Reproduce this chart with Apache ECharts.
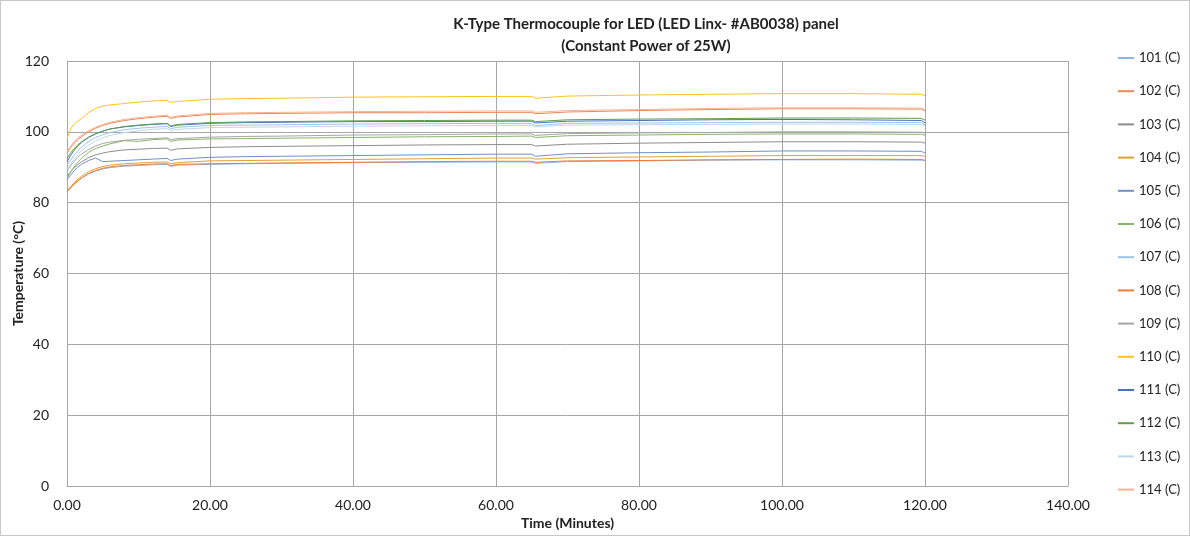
<!DOCTYPE html>
<html>
<head>
<meta charset="utf-8">
<script src="https://cdn.jsdelivr.net/npm/echarts@6/dist/echarts.min.js"></script>
<style>
  html, body { margin: 0; padding: 0; background: #fff; }
  #chart { width: 1190px; height: 536px; box-sizing: border-box; border: 1px solid #c8c8c8; }
</style>
</head>
<body>
<div id="chart"></div>
<script>
// time in minutes
var minutes = [0, 0.5, 1, 1.5, 2, 3, 4, 5, 6, 8, 10, 12, 14, 14.5, 15.5, 20, 25, 30, 40, 50, 60, 65, 65.5, 70, 80, 90, 100, 110, 119.5, 120];

var names = ['101 (C)', '102 (C)', '103 (C)', '104 (C)', '105 (C)', '106 (C)', '107 (C)',
             '108 (C)', '109 (C)', '110 (C)', '111 (C)', '112 (C)', '113 (C)', '114 (C)'];

var temp101 = [83.2, 84.3, 85.3, 86.2, 86.9, 88.1, 88.9, 89.5, 89.9, 90.3, 90.5, 90.7, 90.8, 90.2, 90.6, 90.8, 91.0, 91.1, 91.3, 91.4, 91.5, 91.5, 91.1, 91.6, 91.8, 92.0, 92.1, 92.1, 92.0, 91.8];
var temp102 = [94.0, 95.5, 96.8, 97.8, 98.6, 100.0, 101.0, 101.8, 102.4, 103.2, 103.7, 104.1, 104.4, 103.8, 104.2, 104.9, 105.1, 105.2, 105.4, 105.4, 105.5, 105.5, 105.1, 105.6, 106.0, 106.3, 106.5, 106.5, 106.4, 105.9];
var temp103 = [87.5, 88.7, 89.8, 90.7, 91.5, 92.7, 93.5, 94.0, 94.4, 94.9, 95.1, 95.3, 95.4, 94.8, 95.2, 95.6, 95.8, 95.9, 96.1, 96.3, 96.4, 96.4, 96.0, 96.5, 96.8, 97.0, 97.2, 97.2, 97.1, 96.8];
var temp104 = [83.3, 84.5, 85.6, 86.6, 87.4, 88.7, 89.6, 90.2, 90.6, 91.0, 91.2, 91.4, 91.5, 91.0, 91.3, 91.8, 91.9, 92.0, 92.2, 92.4, 92.6, 92.6, 92.3, 92.7, 92.9, 93.1, 93.3, 93.3, 93.3, 93.1];
var temp105 = [86.5, 87.8, 89.0, 90.0, 90.8, 91.9, 92.6, 91.6, 91.7, 91.9, 92.1, 92.3, 92.5, 91.9, 92.3, 92.8, 93.0, 93.1, 93.3, 93.5, 93.7, 93.7, 93.1, 93.8, 94.1, 94.3, 94.6, 94.6, 94.5, 94.0];
var temp106 = [87.0, 88.6, 90.1, 91.4, 92.5, 94.2, 95.3, 96.0, 96.6, 97.5, 97.3, 97.8, 98.0, 97.3, 97.7, 98.0, 98.1, 98.2, 98.4, 98.6, 98.7, 98.8, 98.4, 98.9, 99.1, 99.3, 99.4, 99.4, 99.3, 99.0];
var temp107 = [90.5, 92.0, 93.4, 94.6, 95.6, 97.2, 98.4, 99.2, 99.8, 100.6, 101.0, 101.3, 101.5, 100.9, 101.3, 101.8, 101.9, 102.0, 102.2, 102.3, 102.4, 102.3, 101.8, 102.4, 102.5, 102.6, 102.7, 102.7, 102.6, 102.0];
var temp108 = [83.0, 84.1, 85.2, 86.1, 86.9, 88.2, 89.1, 89.7, 90.1, 90.5, 90.7, 90.9, 91.0, 90.5, 90.8, 91.0, 91.1, 91.2, 91.4, 91.6, 91.7, 91.7, 91.4, 91.8, 91.9, 92.1, 92.2, 92.3, 92.2, 92.0];
var temp109 = [89.0, 90.4, 91.7, 92.8, 93.7, 95.0, 96.0, 96.7, 97.1, 97.6, 97.9, 98.1, 98.3, 97.8, 98.1, 98.5, 98.7, 98.8, 99.1, 99.2, 99.4, 99.4, 99.0, 99.5, 99.7, 99.8, 100.0, 100.0, 99.9, 99.6];
var temp110 = [98.0, 100.8, 102.2, 103.0, 103.7, 105.4, 106.6, 107.3, 107.6, 108.0, 108.4, 108.7, 108.9, 108.3, 108.6, 109.2, 109.4, 109.5, 109.8, 109.9, 110.0, 110.0, 109.5, 110.1, 110.4, 110.6, 110.8, 110.8, 110.6, 110.2];
var temp111 = [91.5, 93.3, 94.8, 96.0, 97.0, 98.4, 99.4, 100.2, 100.8, 101.4, 101.8, 102.1, 102.3, 101.5, 101.9, 102.4, 102.6, 102.7, 102.9, 102.9, 103.0, 103.0, 102.5, 103.0, 103.2, 103.4, 103.5, 103.4, 103.2, 102.5];
var temp112 = [92.5, 94.0, 95.3, 96.3, 97.1, 98.5, 99.5, 100.2, 100.8, 101.5, 101.9, 102.2, 102.4, 101.7, 102.1, 102.6, 102.8, 102.9, 103.1, 103.2, 103.3, 103.3, 102.9, 103.4, 103.6, 103.7, 103.9, 103.9, 103.8, 103.3];
var temp113 = [89.5, 91.0, 92.4, 93.6, 94.6, 96.2, 97.4, 98.3, 99.0, 99.8, 100.3, 100.7, 100.9, 100.4, 100.7, 101.2, 101.3, 101.4, 101.6, 101.7, 101.8, 101.8, 101.4, 101.9, 102.0, 102.1, 102.2, 102.2, 102.1, 101.6];
var temp114 = [94.4, 95.9, 97.2, 98.2, 99.0, 100.3, 101.3, 102.1, 102.7, 103.5, 104.0, 104.4, 104.7, 104.1, 104.5, 105.2, 105.4, 105.5, 105.7, 105.8, 105.9, 105.9, 105.5, 106.0, 106.3, 106.6, 106.8, 106.8, 106.7, 106.2];

var allTemps = [temp101, temp102, temp103, temp104, temp105, temp106, temp107,
                temp108, temp109, temp110, temp111, temp112, temp113, temp114];

var colors = ['#8DB4E2', '#EE8756', '#8C8C8C', '#E1A12E', '#6F8FCB', '#86B66A', '#9DC3E6',
              '#F07A36', '#A5A5A5', '#FFC21A', '#4472C4', '#5E9E4A', '#BDD7EE', '#F8B493'];

var fontName = 'Lato, "Open Sans", sans-serif';

var chart = echarts.init(document.getElementById('chart'));

var series = names.map(function (name, k) {
    return {
        name: name,
        type: 'line',
        showSymbol: false,
        symbol: 'none',
        lineStyle: { width: 1, color: colors[k] },
        itemStyle: { color: colors[k] },
        data: minutes.map(function (t, i) { return [t, allTemps[k][i]]; })
    };
});

var option = {
    animation: false,
    color: colors,
    title: {
        text: 'K-Type Thermocouple for LED (LED Linx- #AB0038) panel\n(Constant Power of 25W)',
        left: 640,
        top: 7,
        textAlign: 'center',
        textStyle: {
            fontFamily: fontName,
            fontSize: 15,
            fontWeight: 'bold',
            color: '#222',
            lineHeight: 22
        }
    },
    legend: {
        orient: 'vertical',
        left: 1112,
        top: 45,
        itemWidth: 16,
        itemHeight: 2,
        icon: 'rect',
        itemGap: 19.2,
        textStyle: { fontFamily: fontName, fontSize: 13, color: '#222', lineHeight: 14 },
        data: names
    },
    grid: {
        left: 66,
        right: 1190 - 1069,
        top: 60,
        bottom: 536 - 487,
        containLabel: false,
        outerBoundsMode: 'none'
    },
    xAxis: {
        type: 'value',
        min: 0,
        max: 140,
        interval: 20,
        name: 'Time (Minutes)',
        nameLocation: 'middle',
        nameGap: 30,
        nameMoveOverlap: false,
        nameTextStyle: { fontFamily: fontName, fontSize: 14, fontWeight: 'bold', color: '#222' },
        axisLine: { lineStyle: { color: '#A6A6A6' } },
        axisTick: { show: false },
        axisLabel: {
            fontFamily: fontName, fontSize: 14, color: '#222', margin: 12,
            formatter: function (v) { return v.toFixed(2); }
        },
        splitLine: { show: true, lineStyle: { color: '#A6A6A6', width: 1 } }
    },
    yAxis: {
        type: 'value',
        min: 0,
        max: 120,
        interval: 20,
        name: 'Temperature (°C)',
        nameLocation: 'middle',
        nameGap: 42,
        nameMoveOverlap: false,
        nameTextStyle: { fontFamily: fontName, fontSize: 14, fontWeight: 'bold', color: '#222' },
        axisLine: { show: true, lineStyle: { color: '#A6A6A6' } },
        axisTick: { show: false },
        axisLabel: { fontFamily: fontName, fontSize: 14, color: '#222', margin: 18 },
        splitLine: { show: true, lineStyle: { color: '#A6A6A6', width: 1 } }
    },
    series: series
};

chart.setOption(option);
</script>
</body>
</html>
